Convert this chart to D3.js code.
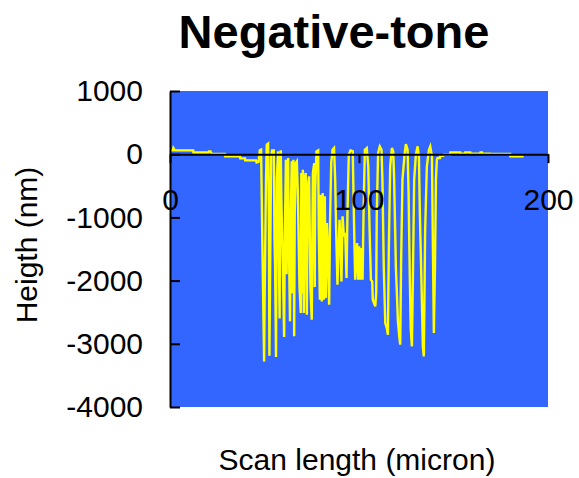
<!DOCTYPE html>
<html><head><meta charset="utf-8">
<script src="https://cdn.jsdelivr.net/npm/d3@7"></script>
<style>body{margin:0;background:#fff}svg{display:block}</style>
</head><body><svg id="c" width="579" height="478"></svg>
<script>
// Scan length (micron)
const scanX = [
0,1.5,1.8,2.6,12.3,12.4,20.3,20.6,21.4,22.1,29.1,29.2,37.1,37.2,39.7,39.8,45.5,45.8,46.8,47.0,
47.5,48.2,48.7,49.2,49.8,50.1,50.8,51.2,51.9,52.3,52.6,53.0,53.5,54.0,54.9,55.3,55.6,56.1,56.5,57.2,
57.6,58.0,58.3,
58.6,59.0,59.7,60.4,60.7,61.3,
61.7,62.1,
62.5,62.8,63.5,63.9,64.4,
64.7,65.0,
65.3,65.7,66.0,66.5,67.1,67.6,68.5,69.2,69.5,
69.9,70.1,
70.3,70.8,71.3,71.8,72.4,72.9,73.6,74.3,75.0,75.6,76.3,
76.6,76.8,
77.0,77.5,78.4,78.7,79.3,79.8,80.3,80.8,81.4,
81.9,82.4,83.0,83.5,84.2,84.7,85.3,86.0,86.8,87.4,87.9,88.6,89.1,89.7,90.2,90.7,91.3,92.0,92.7,93.4,
93.9,94.6,95.5,96.7,97.1,97.6,98.0,98.5,99.0,99.6,100.1,100.8,101.3,101.9,102.4,103.1,104.1,104.9,105.6,106.3,
107.0,107.3,108.6,109.1,109.4,110.1,111.0,111.9,112.4,113.1,113.9,114.7,115.3,115.8,116.5,117.4,118.1,118.6,119.5,120.6,
121.3,121.8,122.3,123.0,124.1,124.8,125.7,126.2,126.9,127.4,128.0,128.5,129.2,130.1,131.0,131.7,132.2,133.1,133.8,134.3,
135.0,135.9,137.0,137.7,138.6,139.1,139.6,140.2,140.7,141.2,
141.6,142.8,143.0,144.6,144.8,148.2,148.3,153.6,153.7,156.1,156.2,158.9,159.0,164.2,164.3,165.0,165.1,169.4,169.5,180.0,180.1,187.1
];
// Heigth (nm)
const heightNm = [
60,60,98,60,60,28,28,45,45,3,3,-35,-35,-66,-66,-98,-98,-130,-120,-87,
61,71,-1037,-2091,-3278,-2197,-403,150,166,-931,-3188,-1775,-34,61,61,-1353,-1775,-3209,-403,45,
-1600,-2600,-200,
61,-825,-1775,-2893,-1458,-87,
-1900,-400,
-61,-1195,-2645,-1037,-113,
-2200,-300,
-87,-2882,-931,-140,-113,-562,-2091,-2513,-298,
-2200,-500,
-245,-2513,-403,-298,-2540,-509,-351,-2091,-2619,-298,-140,
-2100,-600,
-403,45,61,-1195,-2302,-641,-2329,-614,-2302,
-667,-2276,-1089,-1458,-2381,-1037,-140,71,98,-403,-1195,-2065,-1564,-1037,-1406,-2012,-984,-1300,-1247,-1959,
-931,-8,61,45,-667,-1432,-1986,-1669,-1406,-1986,-1458,-1986,-1485,-1986,-931,71,98,-192,-1195,-1986,
-2012,-2302,-2408,-2197,-931,18,124,71,-403,-1775,-2671,-2750,-2856,-1458,-192,98,45,-403,-1775,-2645,
-2882,-3014,-1669,-403,-8,161,71,-562,-1986,-2777,-3041,-1986,-403,-8,124,-34,-931,-2091,-3041,-3199,
-1195,-192,71,124,-34,-1458,-2829,-1775,-403,-87,
-60,-60,-24,-24,-8,-8,28,28,8,8,28,28,8,8,28,28,8,8,3,3,-35,-35
];
const xTicks = [0, 100, 200];
const yTicks = [1000, 0, -1000, -2000, -3000, -4000];
const chartTitle = "Negative-tone";
const xTitle = "Scan length (micron)";
const yTitle = "Heigth (nm)";

const FONT = "'Liberation Sans', Arial, sans-serif";
const svg = d3.select("#c");
const x = d3.scaleLinear().domain([0, 200]).range([170, 548]);
const y = d3.scaleLinear().domain([-4000, 1000]).range([407, 91]);

svg.append("rect").attr("x", x(0)).attr("y", y(1000))
  .attr("width", x(200) - x(0)).attr("height", y(-4000) - y(1000))
  .attr("fill", "#3366ff");

svg.append("clipPath").attr("id", "clip").append("rect")
  .attr("x", x(0)).attr("y", y(1000))
  .attr("width", x(200) - x(0)).attr("height", y(-4000) - y(1000));

const pts = scanX.map((v, i) => [v, heightNm[i]]);
svg.append("path").datum(pts)
  .attr("clip-path", "url(#clip)")
  .attr("fill", "none").attr("stroke", "#ffff00").attr("stroke-width", 2.4)
  .attr("stroke-linejoin", "miter")
  .attr("d", d3.line().x(d => x(d[0])).y(d => y(d[1])));

const fmt = d => String(d);

// X axis at y = 0
const gx = svg.append("g").attr("transform", `translate(0,${y(0)})`)
  .call(d3.axisBottom(x).tickValues(xTicks).tickSizeInner(9).tickSizeOuter(0).tickPadding(26).tickFormat(fmt));
gx.select(".domain").attr("stroke", "#000").attr("stroke-width", 2);
gx.selectAll(".tick line").attr("stroke", "#000").attr("stroke-width", 2);
gx.selectAll(".tick text").attr("font-size", 30).attr("font-family", FONT).attr("fill", "#000");

// Y axis
const gy = svg.append("g").attr("transform", `translate(${x(0)},0)`)
  .call(d3.axisLeft(y).tickValues(yTicks).tickSizeInner(-10).tickSizeOuter(0).tickPadding(27).tickFormat(fmt));
gy.select(".domain").attr("stroke", "#000").attr("stroke-width", 2);
gy.selectAll(".tick line").attr("stroke", "#000").attr("stroke-width", 2);
gy.selectAll(".tick text").attr("font-size", 30).attr("font-family", FONT).attr("fill", "#000");

svg.append("text").attr("x", 334).attr("y", 48).attr("text-anchor", "middle")
  .attr("font-family", FONT).attr("font-weight", "bold").attr("font-size", 47).text(chartTitle);
svg.append("text").attr("x", 357).attr("y", 470).attr("text-anchor", "middle")
  .attr("font-family", FONT).attr("font-size", 30).text(xTitle);
svg.append("text").attr("transform", "translate(37,245) rotate(-90)").attr("text-anchor", "middle")
  .attr("font-family", FONT).attr("font-size", 30).text(yTitle);
</script></body></html>
